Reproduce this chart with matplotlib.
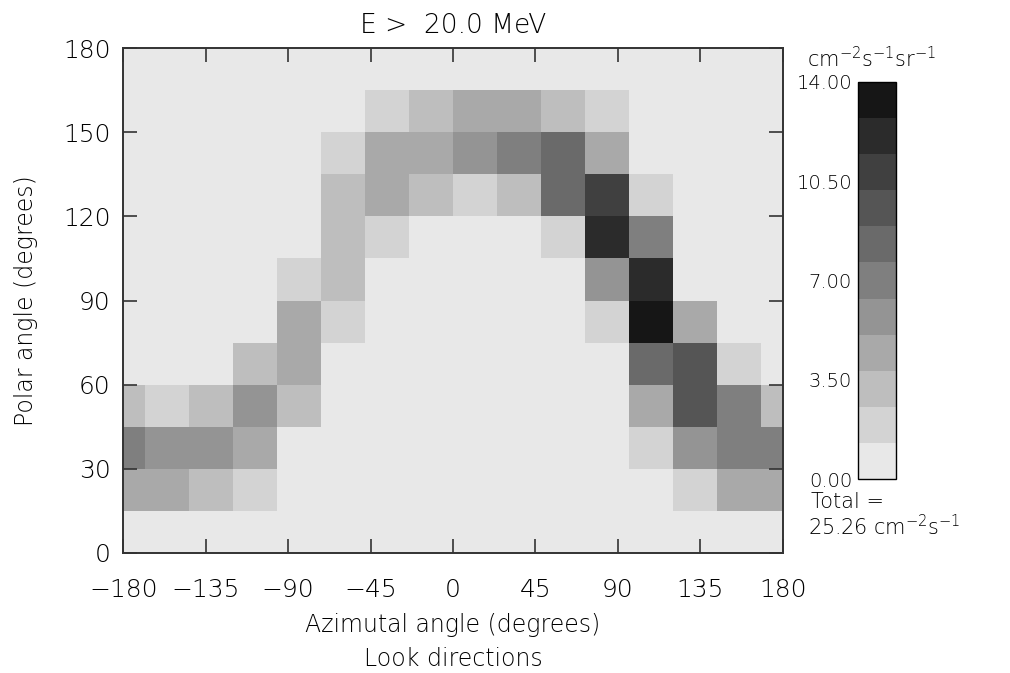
import numpy as np
import matplotlib
matplotlib.use("Agg")
from matplotlib import pyplot as plt
from matplotlib.colors import ListedColormap, BoundaryNorm

plt.rcParams['font.family'] = ['DejaVu Sans']
plt.rcParams['font.weight'] = 'light'
plt.rcParams['axes.titleweight'] = 'light'
plt.rcParams['axes.labelweight'] = 'light'
plt.rcParams['mathtext.fontset'] = 'custom'
plt.rcParams['mathtext.rm'] = 'DejaVu Sans:light'

# azimuth bin centres (deg), 24 deg wide; the -180 bin wraps round to +180
azim_centres = [-180, -156, -132, -108, -84, -60, -36, -12, 12, 36, 60, 84, 108, 132, 156]
# polar bin edges (deg)
polar_edges = [0, 15, 30, 45, 60, 75, 90, 105, 120, 135, 150, 165, 180]

# flux per bin, cm^-2 s^-1 sr^-1 (rows: polar 0-15 ... 165-180)
flux = np.array([
    [0.0,  0.0,  0.0,  0.0,  0.0,  0.0,  0.0,  0.0,  0.0,  0.0,  0.0,  0.0,  0.0,  0.0,  0.0],
    [4.4,  4.4,  3.2,  1.9,  0.0,  0.0,  0.0,  0.0,  0.0,  0.0,  0.0,  0.0,  0.0,  1.9,  4.4],
    [7.0,  5.7,  5.7,  4.4,  0.0,  0.0,  0.0,  0.0,  0.0,  0.0,  0.0,  0.0,  1.9,  5.7,  7.0],
    [3.2,  1.9,  3.2,  5.7,  3.2,  0.0,  0.0,  0.0,  0.0,  0.0,  0.0,  0.0,  4.4,  9.5,  7.0],
    [0.0,  0.0,  0.0,  3.2,  4.4,  0.0,  0.0,  0.0,  0.0,  0.0,  0.0,  0.0,  8.3,  9.5,  1.9],
    [0.0,  0.0,  0.0,  0.0,  4.4,  1.9,  0.0,  0.0,  0.0,  0.0,  0.0,  1.9, 13.4,  4.4,  0.0],
    [0.0,  0.0,  0.0,  0.0,  1.9,  3.2,  0.0,  0.0,  0.0,  0.0,  0.0,  5.7, 12.1,  0.0,  0.0],
    [0.0,  0.0,  0.0,  0.0,  0.0,  3.2,  1.9,  0.0,  0.0,  0.0,  1.9, 12.1,  7.0,  0.0,  0.0],
    [0.0,  0.0,  0.0,  0.0,  0.0,  3.2,  4.4,  3.2,  1.9,  3.2,  8.3, 10.8,  1.9,  0.0,  0.0],
    [0.0,  0.0,  0.0,  0.0,  0.0,  1.9,  4.4,  4.4,  5.7,  7.0,  8.3,  4.4,  0.0,  0.0,  0.0],
    [0.0,  0.0,  0.0,  0.0,  0.0,  0.0,  1.9,  3.2,  4.4,  4.4,  3.2,  1.9,  0.0,  0.0,  0.0],
    [0.0,  0.0,  0.0,  0.0,  0.0,  0.0,  0.0,  0.0,  0.0,  0.0,  0.0,  0.0,  0.0,  0.0,  0.0],
])
total_flux = 25.26
energy = 20.0
cb_ticks = [0, 3.5, 7, 10.5, 14]

vmin, vmax, nlev = 0.0, 14.0, 11
grey = np.linspace(232, 22, nlev) / 255.
cmap = ListedColormap([(g, g, g) for g in grey])
norm = BoundaryNorm(np.linspace(vmin, vmax, nlev + 1), nlev, clip=True)

# bin edges, with the -180 bin split over both sides of the map
x_edges = np.array([-180] + [c + 12 for c in azim_centres] + [180])
flux_wrap = np.hstack([flux, flux[:, :1]])

fig = plt.figure(figsize=(10.10, 6.73), dpi=100)
ax = fig.add_axes([0.1221, 0.1787, 0.6529, 0.7495])
ax.pcolormesh(x_edges, polar_edges, flux_wrap, cmap=cmap, norm=norm)
ax.set_xlim(-180, 180)
ax.set_ylim(0, 180)
ax.set_xticks(np.arange(-180, 181, 45))
ax.set_yticks(np.arange(0, 181, 30))
ax.tick_params(direction='in', length=10, width=1.2, top=True, right=True,
               labelsize=18, pad=9, colors='#333333', labelcolor='black')
ax.tick_params(axis='x', pad=18)
for s in ax.spines.values():
    s.set_linewidth(1.4)
    s.set_color('#333333')
ax.set_title(f"E >  {energy:.1f} MeV", fontsize=19, pad=11)
ax.set_xlabel("Azimutal angle (degrees)\nLook directions", fontsize=17, labelpad=8,
              linespacing=1.55)
ax.set_ylabel("Polar angle (degrees)", fontsize=17, labelpad=18)

cax = fig.add_axes([0.8492, 0.2878, 0.0379, 0.5908])
cb = fig.colorbar(plt.cm.ScalarMappable(norm=norm, cmap=cmap), cax=cax,
                  ticks=cb_ticks)
cb.minorticks_off()
cb.ax.yaxis.set_ticks_position('left')
cb.ax.set_yticklabels([f"{t:.2f}" for t in cb_ticks])
cb.ax.tick_params(length=0, labelsize=14, pad=4)
cb.outline.set_linewidth(1.0)
fig.text(0.799, 0.913, r"cm$^{-2}$s$^{-1}$sr$^{-1}$", fontsize=15, va='center')
fig.text(0.803, 0.254, "Total =", fontsize=15, va='center')
fig.text(0.800, 0.218, f"{total_flux:.2f} cm$^{{-2}}$s$^{{-1}}$", fontsize=15, va='center')

fig.savefig("out.png", dpi=100)
